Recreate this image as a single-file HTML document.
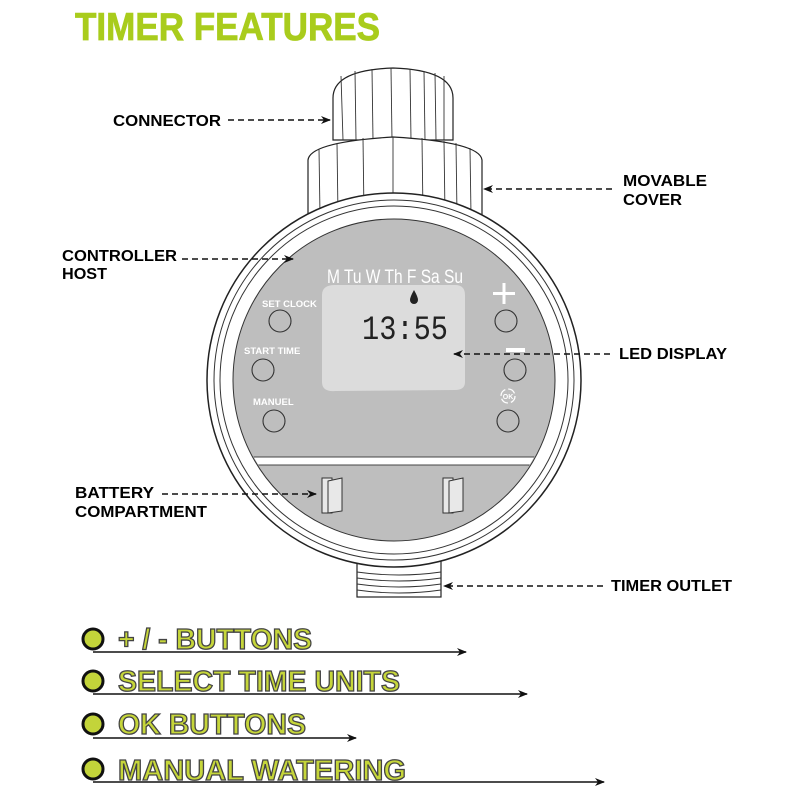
<!DOCTYPE html>
<html><head><meta charset="utf-8"><style>
html,body{margin:0;padding:0;background:#fff;width:800px;height:800px;overflow:hidden}
svg{display:block}
.lb{font-family:"Liberation Sans",sans-serif;font-weight:bold;font-size:16px;fill:#000}
.w{font-family:"Liberation Sans",sans-serif;font-weight:bold;fill:#fff}
.g{font-family:"Liberation Sans",sans-serif;font-weight:bold;font-size:29px;fill:#c6d63a;stroke:#444;stroke-width:1.3}
</style></head><body>
<svg width="800" height="800" viewBox="0 0 800 800" xmlns="http://www.w3.org/2000/svg">
<defs>
<marker id="ah" viewBox="0 0 10 10" refX="9" refY="5" markerWidth="10" markerHeight="10" orient="auto" markerUnits="userSpaceOnUse"><path d="M0,1 L10,5 L0,9 L3,5z" fill="#111"/></marker>
<clipPath id="face"><circle cx="394" cy="380" r="160"/></clipPath>
</defs>
<text x="75" y="40" textLength="305" lengthAdjust="spacingAndGlyphs" style="font-family:'Liberation Sans',sans-serif;font-weight:bold;font-size:39px;fill:#a9cc1c;stroke:#a9cc1c;stroke-width:0.8">TIMER FEATURES</text>

<path d="M333,98 Q333,70 393,68 Q453,70 453,98 L453,140 L333,140Z" fill="#fff" stroke="#222" stroke-width="1.2"/>
<g stroke="#333" stroke-width="0.9">
<line x1="341" y1="76" x2="343" y2="140"/><line x1="355" y1="71" x2="356" y2="140"/><line x1="372" y1="69" x2="373" y2="140"/><line x1="391" y1="68" x2="392" y2="140"/><line x1="410" y1="69" x2="411" y2="140"/><line x1="424" y1="71" x2="425" y2="140"/><line x1="435" y1="73" x2="436" y2="140"/><line x1="444" y1="76" x2="444" y2="140"/></g>
<path d="M308,160 Q310,142 393,137 Q480,142 482,160 L482,215 L308,215Z" fill="#fff" stroke="#222" stroke-width="1.2"/>
<g stroke="#333" stroke-width="0.9">
<line x1="319" y1="149" x2="320" y2="215"/><line x1="337" y1="143" x2="338" y2="215"/><line x1="363" y1="138" x2="364" y2="215"/><line x1="393" y1="137" x2="393" y2="215"/><line x1="422" y1="138" x2="423" y2="215"/><line x1="444" y1="141" x2="445" y2="215"/><line x1="456" y1="143" x2="457" y2="215"/><line x1="470" y1="148" x2="471" y2="215"/></g>

<rect x="357" y="560" width="84" height="37" fill="#fff" stroke="#222" stroke-width="1.2"/>
<g stroke="#333" stroke-width="0.9" fill="none">
<path d="M357,572 Q399,578 441,572"/><path d="M357,578 Q399,584 441,578"/><path d="M357,584 Q399,590 441,584"/><path d="M357,590 Q399,596 441,590"/></g>

<circle cx="394" cy="380" r="187" fill="#fff" stroke="#222" stroke-width="1.5"/>
<circle cx="394" cy="380" r="180" fill="none" stroke="#333" stroke-width="1"/>
<circle cx="394" cy="380" r="174" fill="none" stroke="#333" stroke-width="1"/>
<circle cx="394" cy="380" r="161" fill="#bebebe" stroke="#333" stroke-width="1"/>
<g clip-path="url(#face)">
<rect x="200" y="457" width="400" height="8" fill="#fff"/>
<line x1="200" y1="457" x2="600" y2="457" stroke="#444" stroke-width="1"/>
<line x1="200" y1="465" x2="600" y2="465" stroke="#444" stroke-width="1"/>
<path d="M200,465 L257,465 L230,540 L200,540Z" fill="#fff"/>
<path d="M600,465 L529,465 L560,540 L600,540Z" fill="#fff"/>
<line x1="257" y1="465" x2="232" y2="530" stroke="#444"/>
<line x1="529" y1="465" x2="556" y2="530" stroke="#444"/>
</g>
<path d="M322,295 Q322,285 335,285 L455,285 Q465,285 465,295 L465,382 Q465,390 455,390 L335,391 Q322,392 322,382Z" fill="#dcdcdc"/>
<text x="327" y="283" class="w" style="font-weight:normal;font-size:19px" textLength="136" lengthAdjust="spacingAndGlyphs">M Tu W Th F Sa Su</text>
<path d="M414,290 Q410,297 410,300 A4,4 0 0 0 418,300 Q418,297 414,290Z" fill="#222"/>
<text x="362" y="339" textLength="86" lengthAdjust="spacingAndGlyphs" style="font-family:'Liberation Mono',monospace;font-size:34px;fill:#222">13:55</text>
<g fill="none" stroke="#333" stroke-width="1.1">
<circle cx="280" cy="321" r="11"/><circle cx="263" cy="370" r="11"/><circle cx="274" cy="421" r="11"/>
<circle cx="506" cy="321" r="11"/><circle cx="515" cy="370" r="11"/><circle cx="508" cy="421" r="11"/>
</g>
<text x="262" y="307" class="w" style="font-size:9.5px">SET CLOCK</text>
<text x="244" y="354" class="w" style="font-size:9.5px">START TIME</text>
<text x="253" y="405" class="w" style="font-size:9.5px">MANUEL</text>
<rect x="493" y="292" width="22" height="3" fill="#fff"/><rect x="502.5" y="283" width="3" height="21" fill="#fff"/>
<rect x="506" y="348" width="19" height="4" fill="#fff"/>
<circle cx="508" cy="396" r="7" fill="none" stroke="#fff" stroke-width="1.3" stroke-dasharray="8 3"/>
<text x="508" y="399" class="w" style="font-size:7px" text-anchor="middle">OK</text>
<g fill="#e8e8e8" stroke="#333" stroke-width="1">
<path d="M322,478 L332,478 L332,513 L322,513Z"/><path d="M328,481 L342,478 L342,511 L328,513Z"/>
<path d="M443,478 L453,478 L453,513 L443,513Z"/><path d="M449,481 L463,478 L463,511 L449,513Z"/>
</g>

<g stroke="#111" stroke-width="1.6" stroke-dasharray="6 4" fill="none">
<line x1="228" y1="120" x2="330" y2="120" marker-end="url(#ah)"/>
<line x1="612" y1="189" x2="484" y2="189" marker-end="url(#ah)"/>
<line x1="182" y1="259" x2="293" y2="259" marker-end="url(#ah)"/>
<line x1="610" y1="354" x2="454" y2="354" marker-end="url(#ah)"/>
<line x1="162" y1="494" x2="316" y2="494" marker-end="url(#ah)"/>
<line x1="603" y1="586" x2="444" y2="586" marker-end="url(#ah)"/>
</g>
<text x="113" y="126" class="lb" textLength="108" lengthAdjust="spacingAndGlyphs">CONNECTOR</text>
<text x="623" y="186" class="lb" textLength="84" lengthAdjust="spacingAndGlyphs">MOVABLE</text>
<text x="623" y="205" class="lb" textLength="59" lengthAdjust="spacingAndGlyphs">COVER</text>
<text x="62" y="261" class="lb" textLength="115" lengthAdjust="spacingAndGlyphs">CONTROLLER</text>
<text x="62" y="279" class="lb" textLength="45" lengthAdjust="spacingAndGlyphs">HOST</text>
<text x="619" y="359" class="lb" textLength="108" lengthAdjust="spacingAndGlyphs">LED DISPLAY</text>
<text x="75" y="498" class="lb" textLength="79" lengthAdjust="spacingAndGlyphs">BATTERY</text>
<text x="75" y="517" class="lb" textLength="132" lengthAdjust="spacingAndGlyphs">COMPARTMENT</text>
<text x="611" y="591" class="lb" textLength="121" lengthAdjust="spacingAndGlyphs">TIMER OUTLET</text>

<g stroke="#111" stroke-width="1.5">
<line x1="93" y1="652" x2="466" y2="652" marker-end="url(#ah)"/>
<line x1="93" y1="694" x2="527" y2="694" marker-end="url(#ah)"/>
<line x1="93" y1="738" x2="356" y2="738" marker-end="url(#ah)"/>
<line x1="93" y1="782" x2="604" y2="782" marker-end="url(#ah)"/>
</g>
<g fill="#c3d43a" stroke="#111" stroke-width="3">
<circle cx="93" cy="639" r="10"/><circle cx="93" cy="681" r="10"/><circle cx="93" cy="724" r="10"/><circle cx="93" cy="769" r="10"/>
</g>
<text x="118" y="649" class="g" textLength="194" lengthAdjust="spacingAndGlyphs">+ / - BUTTONS</text>
<text x="118" y="691" class="g" textLength="282" lengthAdjust="spacingAndGlyphs">SELECT TIME UNITS</text>
<text x="118" y="734" class="g" textLength="188" lengthAdjust="spacingAndGlyphs">OK BUTTONS</text>
<text x="118" y="780" class="g" textLength="288" lengthAdjust="spacingAndGlyphs">MANUAL WATERING</text>
</svg>
</body></html>
